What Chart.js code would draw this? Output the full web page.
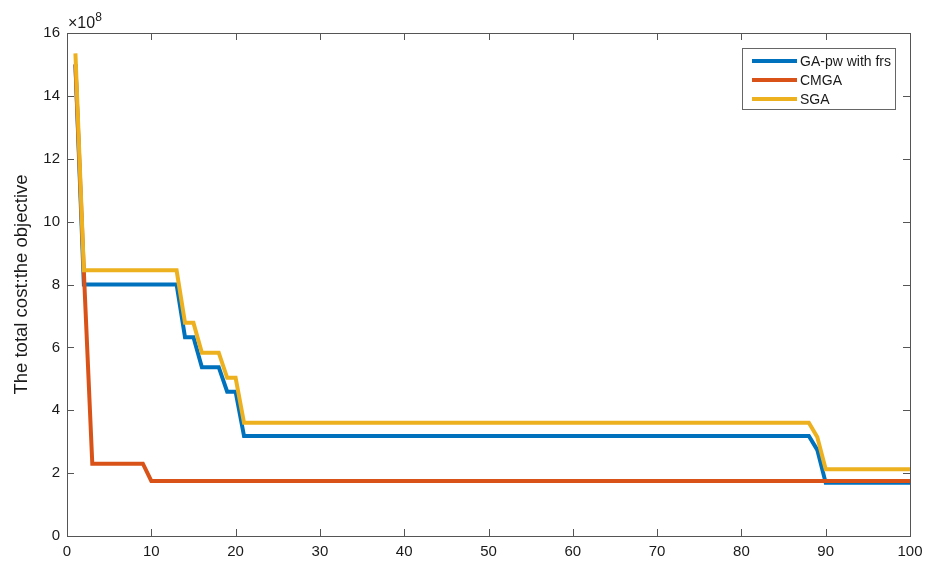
<!DOCTYPE html>
<html>
<head>
<meta charset="utf-8">
<script src="https://cdn.jsdelivr.net/npm/chart.js@4/dist/chart.umd.min.js"></script>
<style>
  html, body { margin: 0; padding: 0; background: #fff; }
  #wrap { width: 937px; height: 561px; }
</style>
</head>
<body>
<div id="wrap"><canvas id="costChart"></canvas></div>
<script>
// generations where the curves change (lines are straight between them), costs in 1e8
const gaGen   = [1, 2, 13, 14, 15, 16, 18, 19, 20, 21, 88, 89, 90, 100];
const gaCost  = [15.0, 8.0, 8.0, 6.32, 6.32, 5.37, 5.37, 4.59, 4.59, 3.18, 3.18, 2.74, 1.69, 1.69];
const cmgaGen  = [1, 2, 3, 9, 10, 100];
const cmgaCost = [15.0, 8.4, 2.3, 2.3, 1.75, 1.75];
const sgaGen  = [1, 2, 13, 14, 15, 16, 18, 19, 20, 21, 88, 89, 90, 100];
const sgaCost = [15.35, 8.45, 8.45, 6.78, 6.78, 5.83, 5.83, 5.03, 5.03, 3.6, 3.6, 3.15, 2.12, 2.12];

const xTicks = [0, 10, 20, 30, 40, 50, 60, 70, 80, 90, 100];
const yTicks = [0, 2, 4, 6, 8, 10, 12, 14, 16];

const pts = (xs, ys) => xs.map((x, i) => ({ x: x, y: ys[i] }));

const axisColor = "#555";
const textColor = "#1a1a1a";
const fontFam = "'Liberation Sans', Arial, sans-serif";

// MATLAB style box, inward ticks, exponent label and boxed legend
const matlabBox = {
  id: "matlabBox",
  afterDraw(chart) {
    const ctx = chart.ctx;
    const a = chart.chartArea;
    const xs = chart.scales.x, ys = chart.scales.y;
    const tl = 7;
    ctx.save();
    ctx.strokeStyle = axisColor;
    ctx.lineWidth = 1;
    ctx.strokeRect(a.left + 0.5, a.top + 0.5, a.right - a.left, a.bottom - a.top);
    ctx.beginPath();
    xTicks.forEach(v => {
      const px = Math.round(xs.getPixelForValue(v)) + 0.5;
      ctx.moveTo(px, a.bottom); ctx.lineTo(px, a.bottom - tl);
      ctx.moveTo(px, a.top); ctx.lineTo(px, a.top + tl);
    });
    yTicks.forEach(v => {
      const py = Math.round(ys.getPixelForValue(v)) + 0.5;
      ctx.moveTo(a.left, py); ctx.lineTo(a.left + tl, py);
      ctx.moveTo(a.right, py); ctx.lineTo(a.right - tl, py);
    });
    ctx.stroke();

    // x10^8
    ctx.fillStyle = textColor;
    ctx.textBaseline = "alphabetic";
    ctx.textAlign = "left";
    ctx.font = "16px " + fontFam;
    ctx.fillText("\u00d710", a.left + 1, a.top - 5);
    const w = ctx.measureText("\u00d710").width;
    ctx.font = "12px " + fontFam;
    ctx.fillText("8", a.left + 1 + w, a.top - 12);

    // legend
    const bx = 742, by = 48, bw = 153, bh = 61;
    ctx.fillStyle = "#fff";
    ctx.fillRect(bx, by, bw, bh);
    ctx.strokeStyle = "#666";
    ctx.strokeRect(bx + 0.5, by + 0.5, bw, bh);
    const order = [0, 1, 2];
    ctx.font = "14px " + fontFam;
    ctx.textBaseline = "middle";
    order.forEach((di, i) => {
      const ds = chart.data.datasets[di];
      const cy = by + 13 + i * 19;
      ctx.strokeStyle = ds.borderColor;
      ctx.lineWidth = 4;
      ctx.beginPath();
      ctx.moveTo(752, cy); ctx.lineTo(797, cy);
      ctx.stroke();
      ctx.fillStyle = textColor;
      ctx.fillText(ds.label, 800, cy + 1);
    });
    ctx.restore();
  }
};

new Chart(document.getElementById("costChart"), {
  type: "line",
  data: {
    datasets: [
      { label: "GA-pw with frs", data: pts(gaGen, gaCost), borderColor: "#0072BD", order: 3 },
      { label: "CMGA", data: pts(cmgaGen, cmgaCost), borderColor: "#D95319", order: 2 },
      { label: "SGA", data: pts(sgaGen, sgaCost), borderColor: "#EDB120", order: 1 }
    ]
  },
  options: {
    responsive: true,
    maintainAspectRatio: false,
    animation: false,
    layout: { padding: { left: 0, right: 27, top: 33, bottom: 0 } },
    elements: {
      line: { borderWidth: 4, tension: 0, fill: false },
      point: { radius: 0 }
    },
    plugins: {
      legend: { display: false },
      tooltip: { enabled: false }
    },
    scales: {
      x: {
        type: "linear",
        min: 0,
        max: 100,
        afterBuildTicks: s => { s.ticks = xTicks.map(v => ({ value: v })); },
        grid: { display: false, drawTicks: false },
        border: { display: false },
        ticks: { color: textColor, font: { family: fontFam, size: 15 }, padding: 7, maxRotation: 0, autoSkip: false },
        afterFit: s => { s.height = 25; }
      },
      y: {
        min: 0,
        max: 16,
        afterBuildTicks: s => { s.ticks = yTicks.map(v => ({ value: v })); },
        grid: { display: false, drawTicks: false },
        border: { display: false },
        ticks: { color: textColor, font: { family: fontFam, size: 15 }, padding: 7 },
        title: {
          display: true,
          text: "The total cost:the objective",
          color: textColor,
          font: { family: fontFam, size: 18.5 },
          padding: { top: 11, bottom: 0 }
        },
        afterFit: s => { s.width = 67; }
      }
    }
  },
  plugins: [matlabBox]
});
</script>
</body>
</html>
